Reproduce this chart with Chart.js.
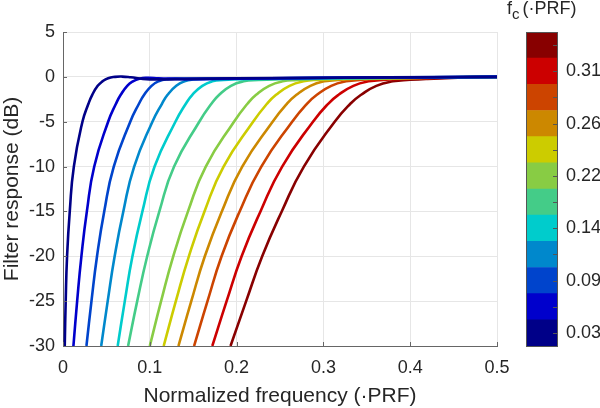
<!DOCTYPE html>
<html>
<head>
<meta charset="utf-8">
<script src="https://cdn.jsdelivr.net/npm/chart.js@4.4.1/dist/chart.umd.min.js"></script>
<style>
  body { margin: 0; background: #fff; }
  #wrap { position: relative; width: 600px; height: 408px; }
  canvas { position: absolute; top: 0; }
  #cbTitle {
    position: absolute; left: 507px; top: -2px;
    font: 18px "Liberation Sans", Arial, sans-serif; color: #262626; white-space: nowrap;
  }
  #cbTitle sub { font-size: 15px; vertical-align: -5px; margin-right: 3px; }
</style>
</head>
<body>
<div id="wrap">
  <canvas id="main" width="600" height="408" style="left:0"></canvas>
  <canvas id="cbar" width="100" height="408" style="left:500px"></canvas>
  <div id="cbTitle">f<sub>c</sub>(·PRF)</div>
</div>
<script>
// niveaux en dB ou on a lu la frequence de chaque courbe
const dbLevels = [-30, -25, -20, -15, -10, -5, -3, -2, -1, -0.5];

// frequence normalisee (·PRF) lue pour chaque courbe a ces niveaux
const xLow = [
  [0.002, 0.0031, 0.0047, 0.0078, 0.0125, 0.0224, 0.0293, 0.0337, 0.0400, 0.0455],
  [0.012, 0.0163, 0.0212, 0.0275, 0.0360, 0.0520, 0.0610, 0.0665, 0.0740, 0.0805],
  [0.027, 0.0328, 0.0392, 0.0475, 0.0585, 0.0775, 0.0875, 0.0935, 0.1020, 0.1100],
  [0.044, 0.0515, 0.0595, 0.0695, 0.0820, 0.1030, 0.1140, 0.1205, 0.1305, 0.1400],
  [0.063, 0.0712, 0.0800, 0.0915, 0.1055, 0.1295, 0.1415, 0.1490, 0.1605, 0.1720],
  [0.075, 0.0855, 0.0970, 0.1110, 0.1280, 0.1570, 0.1710, 0.1800, 0.1935, 0.2080],
  [0.100, 0.1130, 0.1270, 0.1440, 0.1645, 0.1970, 0.2125, 0.2225, 0.2375, 0.2530],
  [0.116, 0.1300, 0.1450, 0.1630, 0.1850, 0.2190, 0.2350, 0.2455, 0.2610, 0.2770],
  [0.133, 0.1478, 0.1634, 0.1830, 0.2065, 0.2415, 0.2580, 0.2690, 0.2850, 0.3010],
  [0.151, 0.1665, 0.1827, 0.2035, 0.2285, 0.2640, 0.2810, 0.2925, 0.3090, 0.3260],
  [0.172, 0.1885, 0.2058, 0.2275, 0.2525, 0.2880, 0.3055, 0.3175, 0.3345, 0.3520],
  [0.193, 0.2110, 0.2295, 0.2520, 0.2775, 0.3130, 0.3310, 0.3435, 0.3610, 0.3800]
];

// partie haute (pres de 0 dB) de chaque courbe
const xTail = [
  [0.052, 0.060, 0.068, 0.078, 0.092, 0.110, 0.150, 0.250, 0.500],
  [0.088, 0.097, 0.110, 0.140, 0.200, 0.350, 0.500],
  [0.120, 0.135, 0.200, 0.350, 0.500],
  [0.150, 0.170, 0.250, 0.400, 0.500],
  [0.185, 0.210, 0.280, 0.400, 0.500],
  [0.225, 0.250, 0.320, 0.420, 0.500],
  [0.270, 0.290, 0.350, 0.440, 0.500],
  [0.295, 0.320, 0.380, 0.450, 0.500],
  [0.320, 0.345, 0.400, 0.460, 0.500],
  [0.345, 0.370, 0.420, 0.470, 0.500],
  [0.372, 0.395, 0.440, 0.480, 0.500],
  [0.400, 0.420, 0.455, 0.485, 0.500]
];
const dbTail = [
  [-0.15, 0, 0.03, -0.05, -0.22, -0.28, -0.22, -0.12, 0],
  [-0.2, -0.1, -0.15, -0.25, -0.2, -0.08, 0],
  [-0.25, -0.2, -0.18, -0.08, 0],
  [-0.3, -0.22, -0.15, -0.05, 0],
  [-0.35, -0.25, -0.18, -0.08, 0],
  [-0.35, -0.27, -0.18, -0.08, 0],
  [-0.35, -0.27, -0.17, -0.07, 0],
  [-0.33, -0.24, -0.14, -0.06, 0],
  [-0.33, -0.23, -0.13, -0.05, 0],
  [-0.33, -0.23, -0.12, -0.04, 0],
  [-0.33, -0.22, -0.10, -0.03, 0],
  [-0.33, -0.22, -0.10, -0.03, 0]
];

const colors = ['#000088', '#0000cc', '#0044cc', '#0088cc', '#00cccc', '#44cc88',
                '#88cc44', '#cccc00', '#cc8800', '#cc4400', '#cc0000', '#880000'];
const cbLabels = ['0.03', '', '0.09', '', '0.14', '', '0.22', '', '0.26', '', '0.31', ''];

const xTicks = [0, 0.1, 0.2, 0.3, 0.4, 0.5];
const yTicks = [-30, -25, -20, -15, -10, -5, 0, 5];

Chart.defaults.font.family = '"Liberation Sans", Arial, sans-serif';
Chart.defaults.color = '#262626';

const datasets = colors.map((c, i) => {
  const pts = [];
  xLow[i].forEach((x, k) => pts.push({ x: x, y: dbLevels[k] }));
  xTail[i].forEach((x, k) => pts.push({ x: x, y: dbTail[i][k] }));
  return {
    data: pts,
    borderColor: c,
    borderWidth: 2.6,
    pointRadius: 0,
    tension: 0.5,
    fill: false
  };
});

// petits traits de graduation vers l'interieur (style matlab)
const innerTicks = {
  id: 'innerTicks',
  afterDraw(chart) {
    const a = chart.chartArea, ctx = chart.ctx;
    const sx = chart.scales.x, sy = chart.scales.y;
    ctx.save();
    ctx.strokeStyle = '#666';
    ctx.lineWidth = 1;
    ctx.beginPath();
    sy.ticks.forEach(t => {
      const y = Math.round(sy.getPixelForValue(t.value)) + 0.5;
      ctx.moveTo(a.left, y);
      ctx.lineTo(a.left + 4, y);
    });
    sx.ticks.forEach(t => {
      const x = Math.round(sx.getPixelForValue(t.value)) + 0.5;
      ctx.moveTo(x, a.bottom);
      ctx.lineTo(x, a.bottom - 4);
    });
    ctx.stroke();
    ctx.restore();
  }
};

new Chart(document.getElementById('main'), {
  type: 'line',
  data: { datasets: datasets },
  options: {
    responsive: false,
    animation: false,
    layout: { padding: { top: 32, right: 103, left: 0, bottom: 0 } },
    plugins: { legend: { display: false }, tooltip: { enabled: false } },
    scales: {
      x: {
        type: 'linear', min: 0, max: 0.5,
        afterBuildTicks: s => { s.ticks = xTicks.map(v => ({ value: v })); },
        afterFit: s => { s.height = 62; },
        ticks: { font: { size: 18 }, padding: 11, maxRotation: 0,
                 callback: v => String(Math.round(v * 10) / 10) },
        grid: { color: '#e6e6e6', drawTicks: false },
        border: { color: '#666', width: 1 },
        title: { display: true, text: 'Normalized frequency (·PRF)', font: { size: 21 }, padding: { top: 5, bottom: -1 } }
      },
      y: {
        min: -30, max: 5,
        afterBuildTicks: s => { s.ticks = yTicks.map(v => ({ value: v })); },
        afterFit: s => { s.width = 63; },
        ticks: { font: { size: 18 }, padding: 8 },
        grid: { color: '#e6e6e6', drawTicks: false },
        border: { color: '#666', width: 1 },
        title: { display: true, text: 'Filter response (dB)', font: { size: 21 }, padding: { top: 0, bottom: 0 } }
      }
    }
  },
  plugins: [innerTicks]
});

// barre de couleur : 12 blocs empiles
const cbOutline = {
  id: 'cbOutline',
  afterDraw(chart) {
    const a = chart.chartArea, ctx = chart.ctx, sy = chart.scales.y;
    ctx.save();
    ctx.strokeStyle = '#555';
    ctx.lineWidth = 1;
    ctx.strokeRect(Math.round(a.left) + 0.5, Math.round(a.top) + 0.5,
                   Math.round(a.right - a.left), Math.round(a.bottom - a.top));
    sy.ticks.forEach(t => {
      const y = Math.round(sy.getPixelForValue(t.value)) + 0.5;
      ctx.beginPath();
      ctx.moveTo(a.right - 4, y);
      ctx.lineTo(a.right, y);
      ctx.stroke();
    });
    ctx.restore();
  }
};

new Chart(document.getElementById('cbar'), {
  type: 'bar',
  data: {
    labels: ['fc'],
    datasets: colors.map(c => ({ data: [1], backgroundColor: c, borderWidth: 0,
                                 barPercentage: 1, categoryPercentage: 1 }))
  },
  options: {
    responsive: false,
    animation: false,
    layout: { padding: { top: 32, bottom: 62, left: 26, right: 0 } },
    plugins: { legend: { display: false }, tooltip: { enabled: false } },
    scales: {
      x: { display: false, stacked: true },
      y: {
        stacked: true, position: 'right', min: 0, max: colors.length,
        afterBuildTicks: s => { s.ticks = colors.map((c, i) => ({ value: i + 0.5 })); },
        afterFit: s => { s.width = 43; },
        ticks: { font: { size: 18 }, padding: 9, callback: (v, i) => cbLabels[i] },
        grid: { display: false, drawTicks: false },
        border: { display: false }
      }
    }
  },
  plugins: [cbOutline]
});
</script>
</body>
</html>
